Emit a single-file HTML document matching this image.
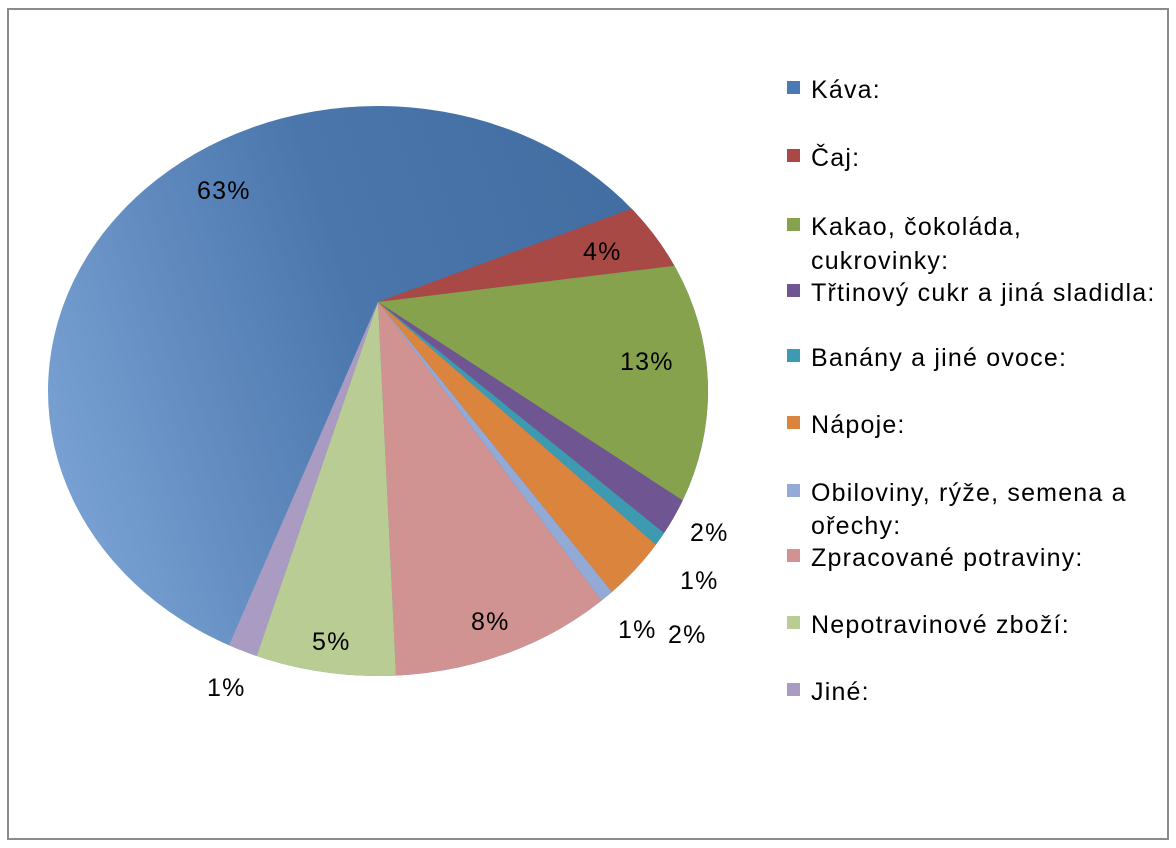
<!DOCTYPE html>
<html style="overflow:hidden"><head><meta charset="utf-8"><style>
html,body{margin:0;padding:0;background:#fff;width:1176px;height:848px;overflow:hidden}
svg{display:block}
svg text{font-family:"Liberation Sans","DejaVu Sans",sans-serif;font-size:25px;letter-spacing:1.2px;fill:#000}
</style></head><body>
<svg width="1176" height="848" viewBox="0 0 1176 848">
<defs>
<clipPath id="c"><ellipse cx="378" cy="391" rx="330" ry="285"/></clipPath>
<linearGradient id="g" x1="0" y1="0.6" x2="1" y2="0.3">
<stop offset="0" stop-color="#7aa2d4"/><stop offset="0.5" stop-color="#4a76ac"/><stop offset="1" stop-color="#406ca0"/></linearGradient>
</defs>
<rect x="8" y="9" width="1160" height="830" fill="#fff" stroke="#8c8c8c" stroke-width="2"/>
<g clip-path="url(#c)">
<rect x="40" y="100" width="680" height="600" fill="url(#g)"/>
<polygon points="378,302 878,118 968,230" fill="#a84946"/>
<polygon points="378,302 968,230 986,698" fill="#87a24c"/>
<polygon points="378,302 986,698 950,764" fill="#6f5592"/>
<polygon points="378,302 950,764 934,788" fill="#3e9ab0"/>
<polygon points="378,302 934,788 846,882" fill="#db843d"/>
<polygon points="378,302 846,882 824,898" fill="#93aad6"/>
<polygon points="378,302 824,898 414,1050" fill="#d09392"/>
<polygon points="378,302 414,1050 136,1008" fill="#b9cc94"/>
<polygon points="378,302 136,1008 82,984" fill="#a99bc1"/>
</g>
<text x="197" y="199">63%</text>
<text x="583" y="260">4%</text>
<text x="620" y="370">13%</text>
<text x="690" y="541">2%</text>
<text x="680" y="589">1%</text>
<text x="618" y="638">1%</text>
<text x="668" y="643">2%</text>
<text x="471" y="630">8%</text>
<text x="312" y="650">5%</text>
<text x="207" y="696">1%</text>
<g>
<rect x="787" y="81" width="13" height="13" fill="#4a7ab5"/><text x="811" y="98">Káva:</text>
<rect x="787" y="149" width="13" height="13" fill="#a84946"/><text x="811" y="166">Čaj:</text>
<rect x="787" y="218" width="13" height="13" fill="#87a24c"/><text x="811" y="235">Kakao, čokoláda,</text><text x="811" y="269">cukrovinky:</text>
<rect x="787" y="284" width="13" height="13" fill="#6f5592"/><text x="811" y="301">Třtinový cukr a jiná sladidla:</text>
<rect x="787" y="349" width="13" height="13" fill="#3e9ab0"/><text x="811" y="366">Banány a jiné ovoce:</text>
<rect x="787" y="416" width="13" height="13" fill="#db843d"/><text x="811" y="433">Nápoje:</text>
<rect x="787" y="484" width="13" height="13" fill="#93aad6"/><text x="811" y="501">Obiloviny, rýže, semena a</text><text x="811" y="534">ořechy:</text>
<rect x="787" y="549" width="13" height="13" fill="#d09392"/><text x="811" y="566">Zpracované potraviny:</text>
<rect x="787" y="616" width="13" height="13" fill="#b9cc94"/><text x="811" y="633">Nepotravinové zboží:</text>
<rect x="787" y="683" width="13" height="13" fill="#a99bc1"/><text x="811" y="700">Jiné:</text>
</g>
</svg>
</body></html>
